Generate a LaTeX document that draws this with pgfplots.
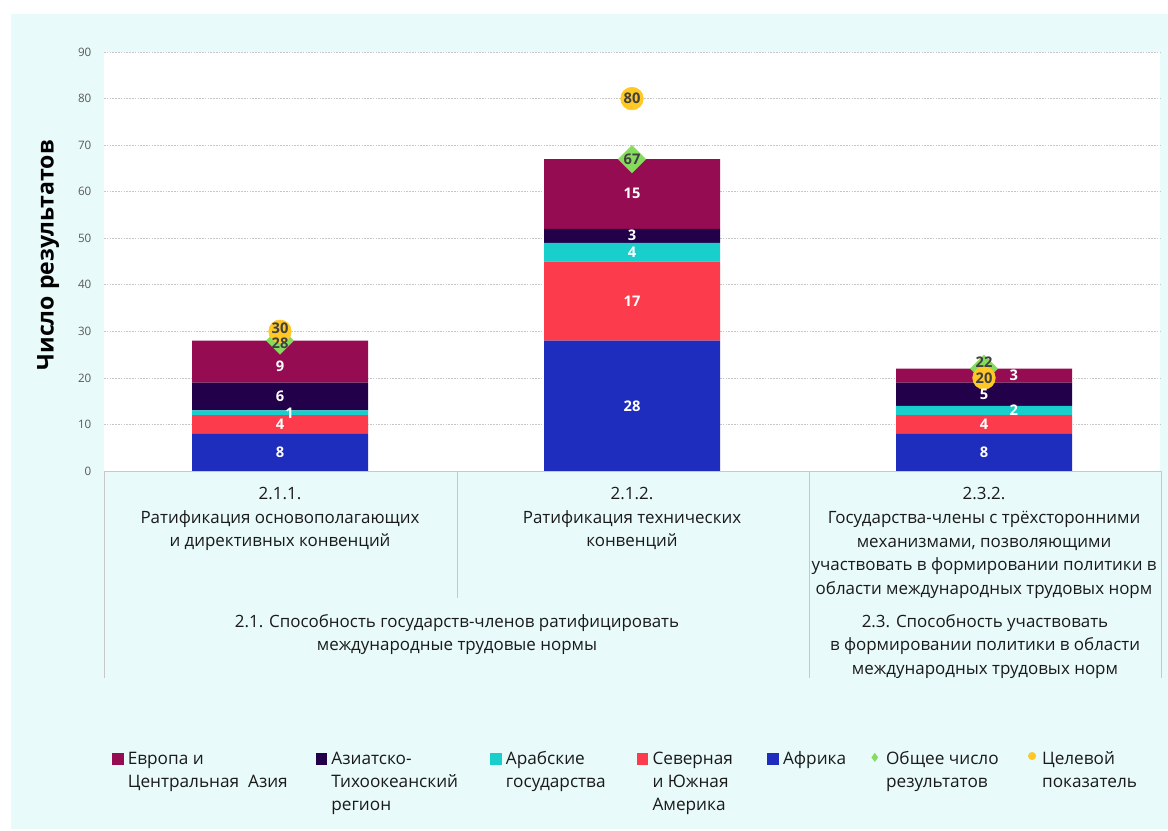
\documentclass[border=0pt]{standalone}
\usepackage{pgfplots}
\pgfplotsset{compat=1.18}
\usepackage{fontspec}
\setmainfont{Open Sans}
\definecolor{bgc}{HTML}{E8FAF9}
\definecolor{eur}{HTML}{960C52}
\definecolor{asia}{HTML}{22004A}
\definecolor{arab}{HTML}{19CFCB}
\definecolor{amer}{HTML}{FC3C4C}
\definecolor{afr}{HTML}{1F2DBE}
\definecolor{tot}{HTML}{86DB5E}
\definecolor{tgt}{HTML}{FFC824}
\definecolor{tickc}{HTML}{595959}
\definecolor{lblc}{HTML}{404040}
\definecolor{txtc}{HTML}{1A1A1A}
\definecolor{linec}{HTML}{C8C8C8}
\pgfplotsset{
  myaxis/.style={
    at={(78pt,-353.25pt)}, anchor=south west,
    scale only axis, width=792pt, height=314.25pt,
    xmin=-0.5, xmax=2.5, ymin=0, ymax=90,
  },
  barlbl/.style={draw=none, mark=none, nodes near coords, point meta=explicit symbolic,
    nodes near coords style={anchor=center, text=white, font=\fontsize{11}{13}\selectfont\bfseries, inner sep=0pt}},
  mklbl/.style={draw=none, mark=none, nodes near coords, point meta=explicit symbolic,
    nodes near coords style={anchor=center, text=lblc, font=\fontsize{11}{13}\selectfont\bfseries, inner sep=0pt}},
}
\begin{document}
\begin{tikzpicture}
\begin{scope}[x=0.75pt,y=-0.75pt]
\useasboundingbox (0,0) rectangle (1168,831);
\fill[white] (0,0) rectangle (1168,831);
\fill[bgc] (11,14) rectangle (1168,829);
\end{scope}
\begin{axis}[myaxis, ybar stacked, bar width=132pt,
  axis background/.style={fill=white},
  axis line style={draw=none},
  ytick={0,10,...,90},
  ymajorgrids, grid style={dash pattern=on 1.2pt off 0.9pt, gray!45, line width=0.5pt},
  major tick length=0pt,
  /pgf/number format/assume math mode=true,
  yticklabel style={font=\fontsize{8.7}{10}\selectfont, text=tickc, xshift=-6pt},
  xtick={0,1,2},
  xticklabels={{2.1.1.\\Ратификация основополагающих\\и директивных конвенций},
    {2.1.2.\\Ратификация технических\\конвенций},
    {2.3.2.\\Государства-члены с трёхсторонними\\механизмами, позволяющими\\участвовать в формировании политики в\\области международных трудовых норм}},
  xticklabel style={align=center, anchor=north, text=txtc, font=\fontsize{12.7}{17.8}\selectfont, inner sep=0pt, yshift=-12pt},
  ylabel={Число результатов},
  every axis y label/.style={at={(axis description cs:-0.053,0.515)}, rotate=90, anchor=center, font=\fontsize{17.3}{20}\selectfont\bfseries, text=black},
]
\addplot[fill=afr, draw=none] coordinates {(0,8) (1,28) (2,8)};
\addplot[fill=amer, draw=none] coordinates {(0,4) (1,17) (2,4)};
\addplot[fill=arab, draw=none] coordinates {(0,1) (1,4) (2,2)};
\addplot[fill=asia, draw=none] coordinates {(0,6) (1,3) (2,5)};
\addplot[fill=eur, draw=none] coordinates {(0,9) (1,15) (2,3)};
\end{axis}
\begin{axis}[myaxis, hide axis, clip=false,
  legend columns=7,
  legend cell align=left,
  legend style={at={(axis description cs:0.0073,-0.661)}, anchor=north west, draw=none, fill=none,
    inner sep=0pt, font=\fontsize{12.9}{17.6}\selectfont, text=txtc,
    cells={anchor=base west, inner sep=0pt},
    /tikz/every odd column/.append style={column sep=1.5pt},
    /tikz/every even column/.append style={column sep=0pt}},
]
\addplot[only marks, mark=square*, mark size=7.2pt, color=tot, mark options={rotate=45}, forget plot] coordinates {(0,28) (1,67) (2,22)};
\addplot[only marks, mark=*, mark size=8.5pt, color=tgt, forget plot] coordinates {(0,30) (1,80) (2,20)};
\addplot[barlbl, forget plot] coordinates {(0,4)[8] (0,10)[4] (0.027,12.5)[1] (0,16)[6] (0,22.6)[9]
  (1,14)[28] (1,36.5)[17] (1,47)[4] (1,50.6)[3] (1,59.6)[15]
  (2,4)[8] (2,10)[4] (2.085,13)[2] (2,16.4)[5] (2.085,20.5)[3]};
\addplot[mklbl, forget plot] coordinates {(0,30.6)[30] (0,27.4)[28] (1,80)[80] (1,67)[67] (2,23.4)[22] (2,20)[20]};
\addlegendimage{legend image code/.code={\fill[eur] (0pt,0pt) rectangle (8pt,8pt);}}
\addlegendentry{\parbox[t]{138.8pt}{Европа и\\Центральная\ \ Азия}}
\addlegendimage{legend image code/.code={\fill[asia] (0pt,0pt) rectangle (8pt,8pt);}}
\addlegendentry{\parbox[t]{117pt}{Азиатско-\\Тихоокеанский\\регион}}
\addlegendimage{legend image code/.code={\fill[arab] (0pt,0pt) rectangle (8pt,8pt);}}
\addlegendentry{\parbox[t]{96pt}{Арабские\\государства}}
\addlegendimage{legend image code/.code={\fill[amer] (0pt,0pt) rectangle (8pt,8pt);}}
\addlegendentry{\parbox[t]{84pt}{Северная\\и Южная\\Америка}}
\addlegendimage{legend image code/.code={\fill[afr] (0pt,0pt) rectangle (8pt,8pt);}}
\addlegendentry{\parbox[t]{63.8pt}{Африка}}
\addlegendimage{legend image code/.code={\path[draw=none, fill=none] (0pt,0pt) rectangle (8pt,8pt); \draw[only marks, mark=diamond*, mark size=3pt, color=tot] plot coordinates {(3pt,5pt)};}}
\addlegendentry{\parbox[t]{103.5pt}{Общее число\\результатов}}
\addlegendimage{legend image code/.code={\path[draw=none, fill=none] (0pt,0pt) rectangle (8pt,8pt); \draw[only marks, mark=*, mark size=2.8pt, color=tgt] plot coordinates {(4pt,6pt)};}}
\addlegendentry{\parbox[t]{80pt}{Целевой\\показатель}}
\end{axis}
\begin{scope}[x=0.75pt,y=-0.75pt]
\draw[linec, line width=0.75pt] (104,471) -- (1161,471);
\draw[linec, line width=0.75pt] (104,471) -- (104,678);
\draw[linec, line width=0.75pt] (457,471) -- (457,598);
\draw[linec, line width=0.75pt] (809,471) -- (809,678);
\draw[linec, line width=0.75pt] (1161,471) -- (1161,678);
\node[anchor=north, align=center, inner sep=0pt, text=txtc, font=\fontsize{12.7}{17.8}\selectfont] at (457,614) {2.1. Способность государств-членов ратифицировать\\международные трудовые нормы};
\node[anchor=north, align=center, inner sep=0pt, text=txtc, font=\fontsize{12.7}{17.8}\selectfont] at (985,614) {2.3. Способность участвовать\\в формировании политики в области\\международных трудовых норм};
\end{scope}
\end{tikzpicture}
\end{document}
